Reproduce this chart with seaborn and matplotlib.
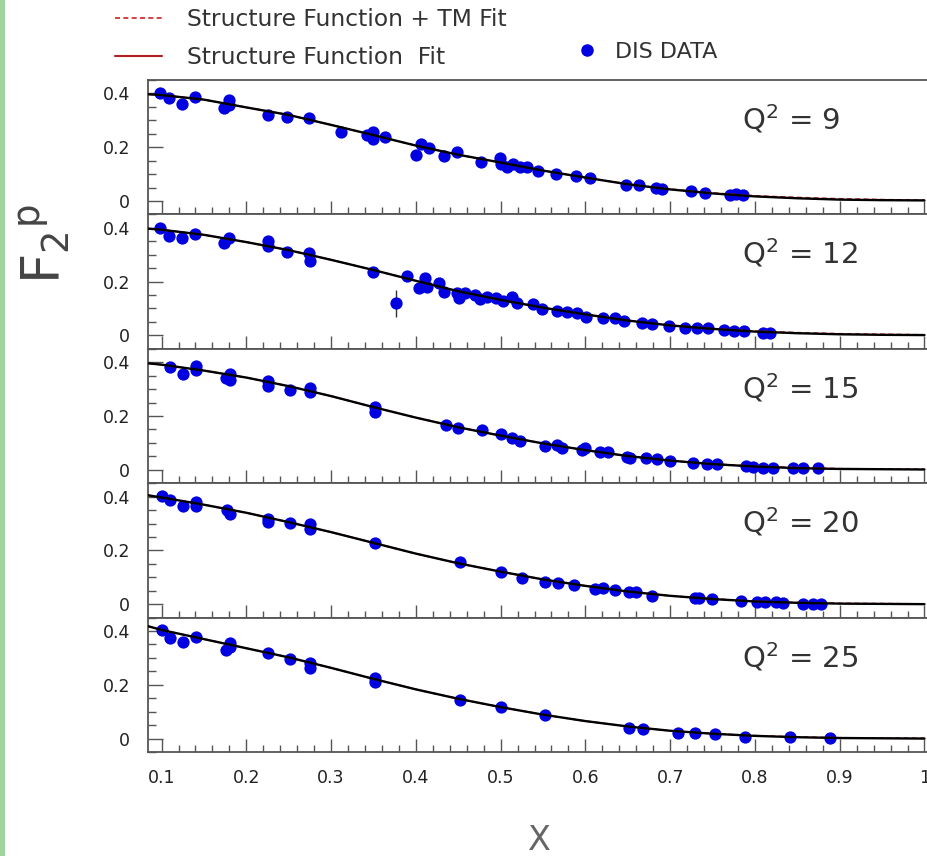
import numpy as np
import pandas as pd
import matplotlib
matplotlib.use("Agg")
import matplotlib.pyplot as plt
import seaborn as sns
from matplotlib.lines import Line2D
from matplotlib.patches import Rectangle
from matplotlib.ticker import MultipleLocator, FixedLocator, FuncFormatter

# ---- measured proton structure function F2 at fixed Q^2 (GeV^2) ----
q2_values = [9, 12, 15, 20, 25]

q9_x = [0.098, 0.109, 0.124, 0.140, 0.174, 0.179, 0.180, 0.225, 0.248, 0.274,
        0.312, 0.342, 0.349, 0.349, 0.364, 0.400, 0.406, 0.415, 0.433, 0.448,
        0.477, 0.499, 0.500, 0.508, 0.515, 0.523, 0.531, 0.544, 0.565, 0.589,
        0.606, 0.648, 0.663, 0.683, 0.690, 0.725, 0.741, 0.771, 0.778, 0.786]
q9_y = [0.401, 0.382, 0.359, 0.387, 0.344, 0.375, 0.357, 0.319, 0.311, 0.308,
        0.255, 0.247, 0.255, 0.229, 0.237, 0.172, 0.213, 0.196, 0.167, 0.183,
        0.145, 0.158, 0.136, 0.127, 0.138, 0.127, 0.127, 0.111, 0.102, 0.092,
        0.085, 0.060, 0.060, 0.050, 0.043, 0.037, 0.031, 0.022, 0.025, 0.022]

q12_x = [0.098, 0.109, 0.124, 0.140, 0.174, 0.179, 0.225, 0.225, 0.248, 0.274,
         0.275, 0.349, 0.376, 0.390, 0.404, 0.411, 0.413, 0.427, 0.433, 0.449,
         0.451, 0.458, 0.470, 0.476, 0.484, 0.495, 0.503, 0.514, 0.519, 0.538,
         0.549, 0.566, 0.578, 0.590, 0.601, 0.621, 0.635, 0.645, 0.667, 0.678,
         0.699, 0.718, 0.732, 0.745, 0.764, 0.775, 0.787, 0.810, 0.818]
q12_y = [0.399, 0.368, 0.361, 0.376, 0.343, 0.364, 0.350, 0.333, 0.309, 0.306,
         0.277, 0.237, 0.119, 0.219, 0.175, 0.215, 0.181, 0.194, 0.160, 0.156,
         0.140, 0.156, 0.150, 0.135, 0.144, 0.140, 0.128, 0.144, 0.119, 0.115,
         0.098, 0.091, 0.086, 0.082, 0.070, 0.066, 0.063, 0.053, 0.045, 0.041,
         0.036, 0.029, 0.026, 0.026, 0.020, 0.016, 0.016, 0.010, 0.010]
# statistical error bars; only the low point at x=0.376 has one wider than its marker
q12_err = [0.0] * 12 + [0.05] + [0.0] * 36

q15_x = [0.110, 0.125, 0.141, 0.141, 0.176, 0.181, 0.181, 0.226, 0.226, 0.251,
         0.275, 0.275, 0.352, 0.352, 0.435, 0.450, 0.478, 0.501, 0.513, 0.523,
         0.552, 0.566, 0.572, 0.596, 0.600, 0.617, 0.627, 0.649, 0.653, 0.672,
         0.684, 0.700, 0.727, 0.743, 0.755, 0.790, 0.798, 0.810, 0.821, 0.845,
         0.857, 0.875]
q15_y = [0.383, 0.355, 0.385, 0.370, 0.343, 0.358, 0.333, 0.330, 0.312, 0.296,
         0.306, 0.289, 0.234, 0.216, 0.165, 0.157, 0.147, 0.134, 0.119, 0.107,
         0.088, 0.092, 0.080, 0.072, 0.080, 0.067, 0.067, 0.047, 0.045, 0.042,
         0.039, 0.032, 0.026, 0.020, 0.020, 0.014, 0.010, 0.007, 0.007, 0.005,
         0.005, 0.005]

q20_x = [0.100, 0.110, 0.125, 0.141, 0.141, 0.177, 0.181, 0.226, 0.226, 0.251,
         0.275, 0.275, 0.352, 0.452, 0.501, 0.525, 0.552, 0.568, 0.586, 0.611,
         0.621, 0.635, 0.652, 0.660, 0.678, 0.729, 0.734, 0.749, 0.784, 0.802,
         0.812, 0.825, 0.833, 0.857, 0.869, 0.878]
q20_y = [0.401, 0.389, 0.364, 0.380, 0.364, 0.349, 0.337, 0.318, 0.306, 0.302,
         0.299, 0.281, 0.227, 0.155, 0.119, 0.098, 0.082, 0.078, 0.073, 0.057,
         0.061, 0.053, 0.045, 0.045, 0.032, 0.024, 0.024, 0.020, 0.011, 0.007,
         0.007, 0.007, 0.005, 0.002, 0.002, 0.001]

q25_x = [0.101, 0.110, 0.125, 0.141, 0.176, 0.181, 0.181, 0.226, 0.251, 0.275,
         0.275, 0.352, 0.352, 0.452, 0.501, 0.552, 0.652, 0.668, 0.709, 0.729,
         0.753, 0.788, 0.841, 0.888]
q25_y = [0.404, 0.374, 0.360, 0.379, 0.329, 0.354, 0.339, 0.317, 0.296, 0.280,
         0.262, 0.225, 0.212, 0.143, 0.118, 0.088, 0.039, 0.035, 0.022, 0.019,
         0.016, 0.006, 0.004, 0.001]

# ---- fitted curves sampled along x ----
fit_x = [0.084, 0.10, 0.15, 0.20, 0.25, 0.30, 0.35, 0.40, 0.45, 0.50,
         0.55, 0.60, 0.65, 0.70, 0.75, 0.80, 0.85, 0.90, 0.95, 1.00]
fit_q9 = [0.397, 0.394, 0.377, 0.348, 0.320, 0.283, 0.245, 0.206, 0.172, 0.143,
          0.113, 0.087, 0.062, 0.043, 0.028, 0.017, 0.010, 0.005, 0.003, 0.002]
fit_q12 = [0.397, 0.393, 0.374, 0.347, 0.317, 0.281, 0.243, 0.203, 0.164, 0.132,
           0.103, 0.078, 0.055, 0.037, 0.024, 0.014, 0.008, 0.004, 0.002, 0.001]
fit_q15 = [0.396, 0.391, 0.369, 0.343, 0.311, 0.274, 0.233, 0.194, 0.158, 0.127,
           0.098, 0.073, 0.051, 0.034, 0.021, 0.012, 0.006, 0.003, 0.002, 0.001]
fit_q20 = [0.405, 0.397, 0.370, 0.340, 0.305, 0.268, 0.228, 0.188, 0.152, 0.121,
           0.092, 0.068, 0.047, 0.031, 0.019, 0.010, 0.005, 0.002, 0.001, 0.000]
fit_q25 = [0.418, 0.404, 0.370, 0.336, 0.302, 0.263, 0.222, 0.183, 0.148, 0.117,
           0.089, 0.065, 0.045, 0.029, 0.018, 0.010, 0.005, 0.002, 0.001, 0.000]
# fit including target-mass corrections (differs only at large x)
tm_q9 = [0.397, 0.394, 0.377, 0.348, 0.320, 0.283, 0.245, 0.206, 0.172, 0.143,
         0.113, 0.087, 0.063, 0.044, 0.030, 0.019, 0.013, 0.008, 0.005, 0.003]
tm_q12 = [0.397, 0.393, 0.374, 0.347, 0.317, 0.281, 0.243, 0.203, 0.164, 0.132,
          0.103, 0.078, 0.056, 0.038, 0.025, 0.016, 0.010, 0.006, 0.004, 0.002]
tm_q15 = [0.396, 0.391, 0.369, 0.343, 0.311, 0.274, 0.233, 0.194, 0.158, 0.127,
          0.098, 0.073, 0.051, 0.034, 0.022, 0.013, 0.008, 0.004, 0.003, 0.002]
tm_q20 = [0.405, 0.397, 0.370, 0.340, 0.305, 0.268, 0.228, 0.188, 0.152, 0.121,
          0.092, 0.068, 0.047, 0.031, 0.020, 0.011, 0.006, 0.003, 0.002, 0.001]
tm_q25 = [0.418, 0.404, 0.370, 0.336, 0.302, 0.263, 0.222, 0.183, 0.148, 0.117,
          0.089, 0.065, 0.045, 0.029, 0.018, 0.011, 0.006, 0.003, 0.002, 0.001]

x_ticks = [0.1, 0.2, 0.3, 0.4, 0.5, 0.6, 0.7, 0.8, 0.9, 1.0]
y_ticks = [0.0, 0.2, 0.4]

panels = [
    (q2_values[0], q9_x, q9_y, None, fit_q9, tm_q9),
    (q2_values[1], q12_x, q12_y, q12_err, fit_q12, tm_q12),
    (q2_values[2], q15_x, q15_y, None, fit_q15, tm_q15),
    (q2_values[3], q20_x, q20_y, None, fit_q20, tm_q20),
    (q2_values[4], q25_x, q25_y, None, fit_q25, tm_q25),
]

sns.set_theme(style="white")
plt.rcParams["font.family"] = ["DejaVu Sans"]
plt.rcParams["mathtext.fontset"] = "dejavusans"

W, H = 927, 856
fig = plt.figure(figsize=(W / 100, H / 100), dpi=100)
fig.patch.set_facecolor("white")
gs = fig.add_gridspec(5, 1, left=148 / W, right=1.0, top=1 - 80 / H,
                      bottom=1 - 752 / H, hspace=0)

AX_COL = "#555555"
DOT = "#0000e0"

fmt = FuncFormatter(lambda v, pos: f"{v:g}")

for i, (q2, xs, ys, errs, fit, tm) in enumerate(panels):
    ax = fig.add_subplot(gs[i, 0])
    pts = pd.DataFrame({"x": xs, "F2": ys})
    sns.scatterplot(data=pts, x="x", y="F2", ax=ax, color=DOT, s=78,
                    linewidth=0, zorder=2, legend=False)
    if errs is not None:
        e = pd.DataFrame({"x": xs, "F2": ys, "err": errs})
        e = e[e["err"] > 0]
        ax.errorbar(e["x"], e["F2"], yerr=e["err"], fmt="none",
                    ecolor="#333333", elinewidth=1.0, zorder=1)
    curves = pd.DataFrame({"x": fit_x, "fit": fit, "tm": tm})
    sns.lineplot(data=curves, x="x", y="tm", ax=ax, color="#d02020",
                 linewidth=1.2, linestyle=(0, (3, 2)), sort=False,
                 estimator=None, zorder=3)
    sns.lineplot(data=curves, x="x", y="fit", ax=ax, color="black",
                 linewidth=1.7, sort=False, estimator=None, zorder=4)

    ax.set_xlim(0.084, 1.003)
    ax.set_ylim(-0.05, 0.45)
    ax.set_xlabel("")
    ax.set_ylabel("")
    ax.xaxis.set_major_locator(FixedLocator(x_ticks))
    ax.xaxis.set_minor_locator(MultipleLocator(0.02))
    ax.yaxis.set_major_locator(FixedLocator(y_ticks))
    ax.yaxis.set_minor_locator(MultipleLocator(0.05))
    ax.yaxis.set_major_formatter(fmt)
    ax.xaxis.set_major_formatter(fmt)
    ax.tick_params(axis="both", which="both", direction="in", colors=AX_COL,
                   top=False, right=False, left=True, bottom=True, width=1.0)
    ax.tick_params(axis="y", which="major", length=11, pad=13,
                   labelsize=12.5, labelcolor="#222222")
    ax.tick_params(axis="y", which="minor", length=5.5)
    ax.tick_params(axis="x", which="major", length=9.5, pad=12,
                   labelsize=12.5, labelcolor="#222222")
    ax.tick_params(axis="x", which="minor", length=5)
    if i < len(panels) - 1:
        ax.tick_params(axis="x", labelbottom=False)
    for side in ("left", "bottom", "top"):
        ax.spines[side].set_color(AX_COL)
        ax.spines[side].set_linewidth(1.3)
    ax.spines["right"].set_visible(False)
    ax.set_facecolor("white")
    ax.text(0.7625, 0.71, rf"Q$^2$ = {q2}", transform=ax.transAxes,
            fontsize=21, color="#333333", ha="left", va="center")

# axis titles
fig.text(44 / W, 1 - 244 / H, r"$\mathrm{F}_{2}{}^{\mathrm{p}}$", rotation=90,
         fontsize=38, color="#444444", ha="center", va="center")
fig.text(539 / W, 1 - 840 / H, "X", fontsize=24, color="#666666",
         ha="center", va="center")

# legend: two fit curves stacked on the left, data marker on the right
h_tm = Line2D([], [], color="#d02020", linestyle=(0, (3, 2)), linewidth=1.2)
h_fit = Line2D([], [], color="#b02020", linewidth=1.5)
leg1 = fig.legend([h_tm, h_fit],
                  ["Structure Function + TM Fit", "Structure Function  Fit"],
                  loc="upper left", bbox_to_anchor=(115 / W, 1 - 8 / H),
                  frameon=False, fontsize=16.8, handlelength=2.0,
                  handletextpad=1.1, labelspacing=0.65, borderpad=0,
                  borderaxespad=0)
h_dis = Line2D([], [], marker="o", color=DOT, linestyle="none", markersize=8)
leg2 = fig.legend([h_dis], ["DIS DATA"], loc="upper left",
                  bbox_to_anchor=(576 / W, 1 - 42 / H), frameon=False,
                  fontsize=16, handlelength=1.0, handletextpad=0.75,
                  borderpad=0, borderaxespad=0)
for lg in (leg1, leg2):
    for t in lg.get_texts():
        t.set_color("#333333")

# page edge strip
fig.add_artist(Rectangle((0, 0), 5 / W, 1, transform=fig.transFigure,
                         facecolor="#9fd49f", edgecolor="none"))

fig.savefig("out.png", dpi=100)
